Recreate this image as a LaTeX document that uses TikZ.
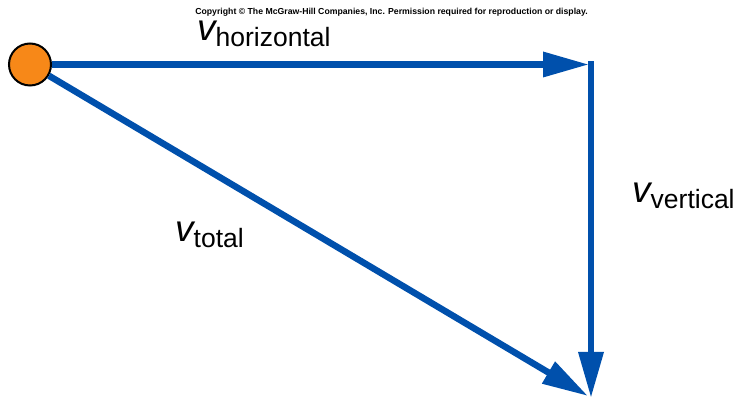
\documentclass[tikz,border=0pt]{standalone}
\usepackage{fontspec}
\setmainfont{Liberation Sans}
\usetikzlibrary{arrows.meta}
\definecolor{vecblue}{RGB}{0,80,172}
\definecolor{ballorange}{RGB}{247,136,24}
\tikzset{
  vec/.style={draw=vecblue, line width=6.5pt, -{Triangle[length=46pt,width=24pt]}},
  lbl/.style={anchor=base west, inner sep=0pt, text=black},
}
\newcommand{\vlabel}[1]{\smash{\fontsize{37}{37}\selectfont\itshape v}\raisebox{-6pt}{\fontsize{26.5}{26.5}\selectfont #1}}
\begin{document}
\begin{tikzpicture}[x=1pt,y=-1pt]
\useasboundingbox (0,0) rectangle (742,403);
\node[circle, draw=black, line width=2pt, fill=ballorange, minimum size=42pt, inner sep=0pt] (ball) at (30,64.5) {};
\coordinate (htip) at (589,64.5);
\coordinate (vtop) at (591,61.5);
\coordinate (vtip) at (591,398);
\coordinate (dtip) at (588,396);
\draw[vec] (ball) -- (htip);
\draw[vec] (vtop) -- (vtip);
\draw[vec] (ball) -- (dtip);
\node[inner sep=0pt, font=\fontsize{8.7}{9}\selectfont\bfseries] (copy) at (391.5,12.5) {Copyright © The McGraw-Hill Companies, Inc. Permission required for reproduction or display.};
\node[lbl] (lh) at (197,41) {\vlabel{horizontal}};
\node[lbl] (lv) at (632,203) {\vlabel{vertical}};
\node[lbl] (lt) at (175,242) {\vlabel{total}};
\end{tikzpicture}
\end{document}
